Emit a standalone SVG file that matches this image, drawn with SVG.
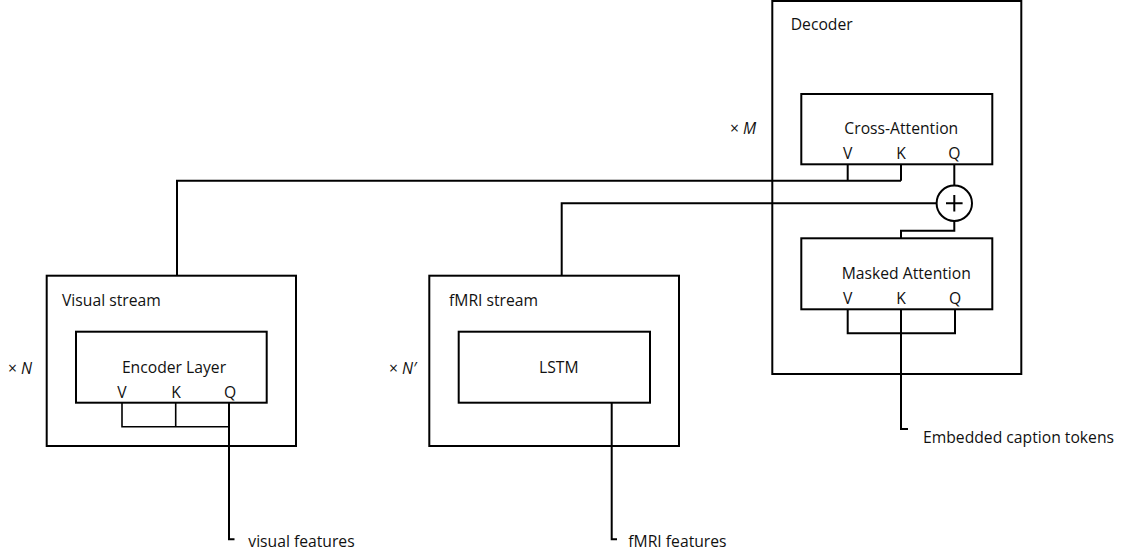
<svg xmlns="http://www.w3.org/2000/svg" width="1123" height="552" viewBox="0 0 1123 552">
  <style>
    .box { fill: none; stroke: #000; stroke-width: 2; }
    .wire { fill: none; stroke: #000; stroke-width: 2; stroke-linejoin: miter; }
    .thin { stroke-width: 1.6; }
    text { font-family: "Open Sans", "Noto Sans", sans-serif; font-size: 15.7px; fill: #111; }
    .mid { text-anchor: middle; }
    .it { font-style: italic; }
  </style>
  <rect width="1123" height="552" fill="#fff"/>

  <!-- connectors -->
  <g id="connectors">
    <!-- visual stream output to cross-attention V/K -->
    <path class="wire" d="M177 275.7 V180.7 H901 M847.7 164.3 V180.7 M901 164.3 V180.7"/>
    <!-- fMRI stream output to the adder -->
    <path class="wire" d="M561.7 275.7 V203.3 H936.6"/>
    <!-- adder to cross-attention Q -->
    <path class="wire" d="M954.3 164.3 V185.6"/>
    <!-- masked attention output to adder -->
    <path class="wire" d="M901 238.3 V230.7 H954.3 V221"/>
    <!-- encoder V/K/Q bracket and input -->
    <path class="wire thin" d="M122 402.7 V426.7 H229 M175.7 402.7 V426.7"/>
    <path class="wire" d="M229 402.7 V539.3 H234.5"/>
    <!-- LSTM input -->
    <path class="wire" d="M611.7 402.7 V539.3 H617"/>
    <!-- masked attention V/K/Q bracket and input -->
    <path class="wire" d="M847.7 309.3 V333.3 H955 V309.3 M901 309.3 V429 H908"/>
  </g>

  <!-- visual stream -->
  <g id="visual-stream">
    <rect class="box" x="46.7" y="275.7" width="249.3" height="170.3"/>
    <text x="62" y="306">Visual stream</text>
    <text class="it" x="8" y="374"><tspan font-style="normal">× </tspan>N</text>
  </g>
  <g id="encoder-layer">
    <rect class="box" x="76" y="331.7" width="190.7" height="71"/>
    <text class="mid" x="174" y="372.5">Encoder Layer</text>
    <text class="mid" x="122" y="397.5">V</text>
    <text class="mid" x="176" y="397.5">K</text>
    <text class="mid" x="230" y="397.5">Q</text>
  </g>

  <!-- fMRI stream -->
  <g id="fmri-stream">
    <rect class="box" x="429.3" y="275.7" width="249.7" height="170.3"/>
    <text x="449" y="306">fMRI stream</text>
    <text class="it" x="389" y="374"><tspan font-style="normal">× </tspan>N′</text>
  </g>
  <g id="lstm">
    <rect class="box" x="458.7" y="331.7" width="191.3" height="71"/>
    <text class="mid" x="558.8" y="372.5">LSTM</text>
  </g>

  <!-- decoder -->
  <g id="decoder">
    <rect class="box" x="772.3" y="1" width="249" height="373"/>
    <text x="790.7" y="30">Decoder</text>
    <text class="it" x="730" y="134"><tspan font-style="normal">× </tspan>M</text>
  </g>
  <g id="cross-attention">
    <rect class="box" x="801.3" y="94" width="191" height="70.3"/>
    <text class="mid" x="901.3" y="134">Cross-Attention</text>
    <text class="mid" x="847.7" y="159">V</text>
    <text class="mid" x="901" y="159">K</text>
    <text class="mid" x="954.3" y="159">Q</text>
  </g>
  <g id="adder">
    <circle class="box" cx="954.3" cy="203.3" r="17.7"/>
    <path class="wire" d="M946 203.3 H962.6 M954.3 195 V211.6"/>
  </g>
  <g id="masked-attention">
    <rect class="box" x="801.3" y="238.3" width="191" height="71"/>
    <text class="mid" x="906.3" y="278.5">Masked Attention</text>
    <text class="mid" x="847.7" y="303.5">V</text>
    <text class="mid" x="901" y="303.5">K</text>
    <text class="mid" x="955" y="303.5">Q</text>
  </g>

  <!-- inputs -->
  <g id="input-visual">
    <text x="248.3" y="547">visual features</text>
  </g>
  <g id="input-fmri">
    <text x="628.3" y="547">fMRI features</text>
  </g>
  <g id="input-captions">
    <text x="923" y="443">Embedded caption tokens</text>
  </g>
</svg>
